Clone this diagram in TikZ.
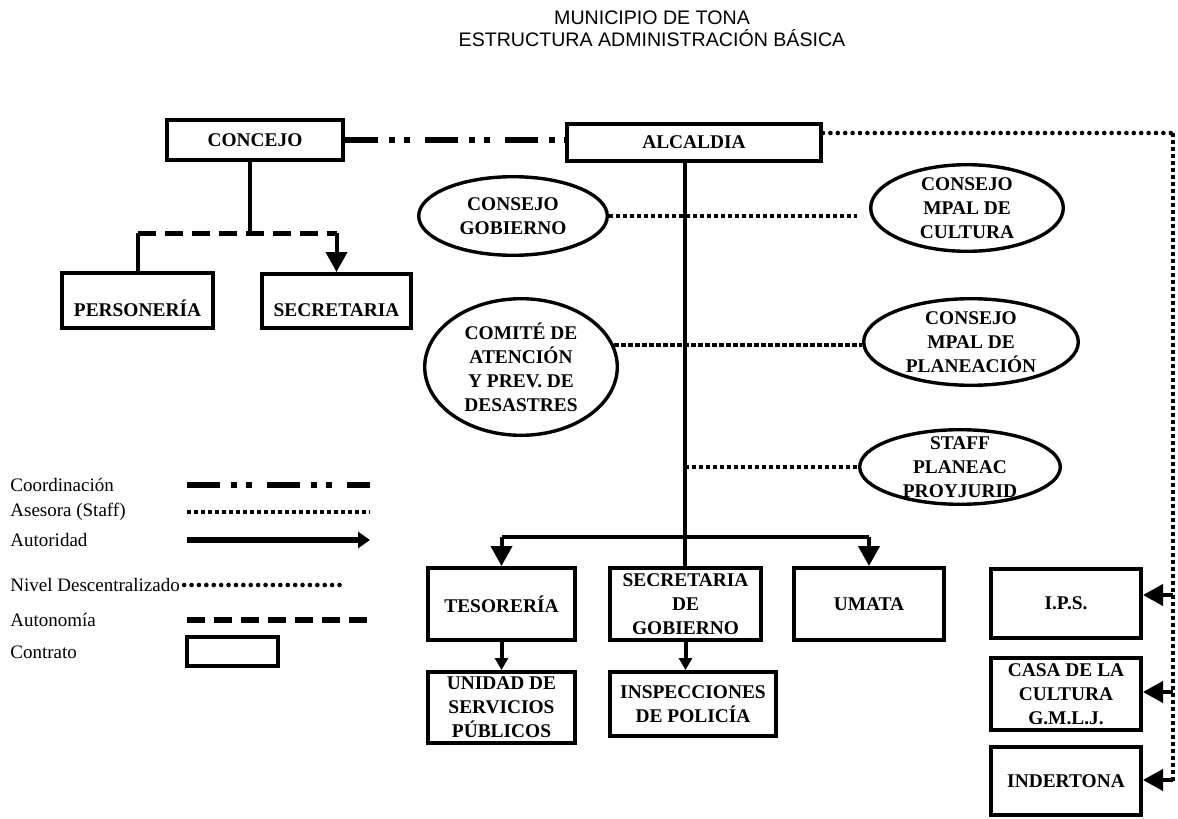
\documentclass[tikz,border=0pt]{standalone}
\usepackage{fontspec}
\setmainfont{Liberation Serif}
\newfontfamily\arialf{Liberation Sans}
\usetikzlibrary{shapes.geometric,arrows.meta}

\tikzset{
  caja/.style={draw, rectangle, line width=2pt, inner sep=0pt, align=center,
    font=\bfseries\fontsize{9.7}{12}\selectfont},
  elipse/.style={draw, ellipse, line width=1.7pt, inner sep=-5pt, align=center,
    font=\bfseries\fontsize{9.7}{12}\selectfont},
  leyenda/.style={anchor=west, inner sep=0pt, font=\fontsize{9.5}{11}\selectfont},
  linea/.style={line width=2pt},
  coordina/.style={line width=3pt, dash pattern=on 16.5pt off 5.5pt on 3pt off 4.5pt on 3pt off 7.5pt},
  asesora/.style={line width=2pt, dash pattern=on 2.2pt off 1.3pt},
  nivel/.style={line width=2.3pt, line cap=round, dash pattern=on 0pt off 3.7pt},
  autonomia/.style={line width=2.5pt, dash pattern=on 9pt off 4.5pt},
  autoridad/.style={line width=2pt, -{Triangle[length=10pt,width=10.5pt]}},
  autchica/.style={line width=2pt, -{Triangle[length=6pt,width=6.5pt]}},
}

\begin{document}
\begin{tikzpicture}[x=0.5pt, y=-0.5pt]
\useasboundingbox (0,0) rectangle (1178,819);

% titulo
\node[font=\arialf\fontsize{9.8}{11}\selectfont, align=center] (titulo) at (652,29)
  {MUNICIPIO DE TONA\\ESTRUCTURA ADMINISTRACIÓN BÁSICA};

% --- concejo y alcaldia ---
\node[caja, minimum width=88pt, minimum height=20pt] (concejo) at (255,140) {CONCEJO};
\node[caja, minimum width=127pt, minimum height=18.5pt] (alcaldia) at (694,142.5) {ALCALDIA};
\node[caja, minimum width=75.5pt, minimum height=27.5pt, text height=16pt] (personeria) at (137.5,300.5) {PERSONERÍA};
\node[caja, minimum width=74.5pt, minimum height=27pt, text height=16pt] (secretaria) at (336.5,301) {SECRETARIA};

% --- consejos (elipses) ---
\node[elipse, minimum width=94.3pt, minimum height=39.3pt] (cgob) at (513,216) {CONSEJO\\GOBIERNO};
\node[elipse, minimum width=96.3pt, minimum height=68.3pt] (comite) at (521,367) {COMITÉ DE\\ATENCIÓN\\Y PREV. DE\\DESASTRES};
\node[elipse, minimum width=96.3pt, minimum height=43.3pt] (ccultura) at (967,208) {CONSEJO\\MPAL DE\\CULTURA};
\node[elipse, minimum width=107.3pt, minimum height=43.3pt] (cplan) at (971,342) {CONSEJO\\MPAL DE\\PLANEACIÓN};
\node[elipse, minimum width=100.3pt, minimum height=37.3pt] (staff) at (960,467) {STAFF\\PLANEAC\\PROYJURID};

% --- dependencias ---
\node[caja, minimum width=73.5pt, minimum height=36pt] (tesoreria) at (501.5,604) {TESORERÍA};
\node[caja, minimum width=75.5pt, minimum height=36pt] (secgob) at (685.5,604) {SECRETARIA\\DE\\GOBIERNO};
\node[caja, minimum width=75pt, minimum height=36pt] (umata) at (869,604) {UMATA};
\node[caja, minimum width=73.5pt, minimum height=35.5pt] (unidad) at (501.5,707.5) {UNIDAD DE\\SERVICIOS\\PÚBLICOS};
\node[caja, minimum width=83pt, minimum height=32pt] (inspecciones) at (693,704) {INSPECCIONES\\DE POLICÍA};

% --- descentralizado ---
\node[caja, minimum width=75pt, minimum height=34.5pt] (ips) at (1066,603.5) {I.P.S.};
\node[caja, minimum width=75pt, minimum height=36pt] (casa) at (1066,694) {CASA DE LA\\CULTURA\\G.M.L.J.};
\node[caja, minimum width=75pt, minimum height=34pt] (indertona) at (1066,781) {INDERTONA};

% conexiones del concejo
\coordinate (aut) at (250,233);
\draw[linea] (concejo.south -| aut) -- (aut);
\draw[linea] (personeria.north) -- (personeria.north |- aut);
\draw[autonomia] (personeria.north |- aut) -- (secretaria.north |- aut);
\draw[autoridad] (secretaria.north |- aut) -- (secretaria.north);

% coordinacion
\draw[coordina] (concejo.east) -- (concejo.east -| alcaldia.west);

% linea de autoridad
\coordinate (rama) at (684.5,537);
\draw[linea] (alcaldia.south -| rama) -- (rama |- secgob.north);
\draw[linea] (tesoreria.north |- rama) -- (umata.north |- rama);
\foreach \n in {tesoreria,umata}
  \draw[autoridad] (\n.north |- rama) -- (\n.north);
\draw[autchica] (tesoreria.south) -- (unidad.north);
\draw[autchica] (secgob.south) -- (secgob.south |- inspecciones.north);

% asesora
\draw[asesora, shorten >=6pt] (cgob.east) -- (cgob.east -| ccultura.west);
\draw[asesora] (comite.13) -- (comite.13 -| cplan.west);
\draw[asesora] (rama |- staff.west) -- (staff.west);

% nivel descentralizado
\coordinate (ndv) at (1173,133);
\draw[nivel] ([yshift=4.75pt]alcaldia.east) -- (ndv);
\draw[asesora, line width=2.3pt] (ndv) -- (ndv |- indertona.east);
\foreach \n/\d in {ips/4.25,casa/1,indertona/0.5}
  \draw[autoridad] ([yshift=\d pt]ndv |- \n.east) -- ([yshift=\d pt]\n.east);

% --- leyenda ---
\coordinate (xa) at (187,0);
\coordinate (xb) at (370,0);
\coordinate (xc) at (340,0);
\node[leyenda] (lcoord) at (10,485) {Coordinación};
\node[leyenda] (lases) at (10,512) {Asesora (Staff)};
\node[leyenda] (lauto) at (10,540) {Autoridad};
\node[leyenda] (lnivel) at (10,585) {Nivel Descentralizado};
\node[leyenda] (lauton) at (10,620) {Autonomía};
\node[leyenda] (lcontr) at (10,652) {Contrato};

\draw[coordina, line width=3.3pt] (xa |- lcoord) -- (xb |- lcoord);
\draw[asesora] (xa |- lases) -- (xb |- lases);
\draw[line width=3pt, -{Triangle[length=6pt,width=8pt]}] (xa |- lauto) -- (xb |- lauto);
\draw[nivel, shorten <=2pt] (lnivel.east) -- (xc |- lnivel.east);
\draw[autonomia, line width=3pt] (xa |- lauton) -- (xb |- lauton);
\node[caja, minimum width=45.5pt, minimum height=14.5pt] (ejcaja) at (232.5,651.5) {};

\end{tikzpicture}
\end{document}
